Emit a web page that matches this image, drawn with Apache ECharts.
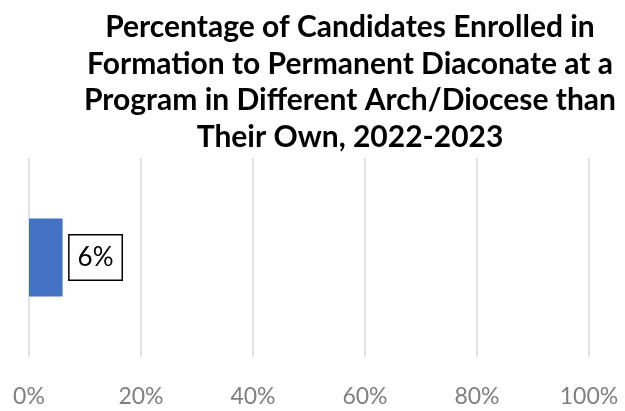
<!DOCTYPE html>
<html>
<head>
<meta charset="utf-8">
<style>
  html, body { margin: 0; padding: 0; background: #ffffff; }
  #chart { width: 625px; height: 411px; }
</style>
<script src="https://cdn.jsdelivr.net/npm/echarts@6/dist/echarts.min.js"></script>
</head>
<body>
<div id="chart"></div>
<script>
// Chart data
const categories = ['Different Arch/Diocese'];
const percentValues = [6];
const tickValues = [0, 20, 40, 60, 80, 100];

const titleLines = [
  'Percentage of Candidates Enrolled in',
  'Formation to Permanent Diaconate at a',
  'Program in Different Arch/Diocese than',
  'Their Own, 2022-2023'
];

const chart = echarts.init(document.getElementById('chart'));

chart.setOption({
  animation: false,
  title: {
    text: titleLines.join('\n'),
    left: 345,
    top: 4,
    textAlign: 'center',
    textStyle: {
      fontFamily: 'Lato',
      fontWeight: 'bold',
      fontSize: 30,
      lineHeight: 36.6,
      color: '#000000'
    }
  },
  grid: { left: 29, right: 36, top: 158, bottom: 54, containLabel: false },
  xAxis: {
    type: 'value',
    min: tickValues[0],
    max: tickValues[tickValues.length - 1],
    interval: tickValues[1] - tickValues[0],
    axisLine: { show: false },
    axisTick: { show: false },
    splitLine: { show: true, lineStyle: { color: '#d9d9d9', width: 1.5 } },
    axisLabel: {
      margin: 28,
      fontFamily: 'Lato',
      fontSize: 23,
      color: '#7f7f7f',
      formatter: v => v + '%'
    }
  },
  yAxis: {
    type: 'category',
    data: categories,
    axisLine: { show: false },
    axisTick: { show: false },
    axisLabel: { show: false }
  },
  series: [{
    type: 'bar',
    data: percentValues,
    barWidth: 78,
    itemStyle: { color: '#4472c4' },
    label: {
      show: true,
      position: 'right',
      distance: 7,
      formatter: p => p.value + '%',
      fontFamily: 'Lato',
      fontSize: 26,
      color: '#000000',
      borderColor: '#000000',
      borderWidth: 1.5,
      backgroundColor: '#ffffff',
      padding: [10, 8, 8, 8]
    }
  }]
});
</script>
</body>
</html>
